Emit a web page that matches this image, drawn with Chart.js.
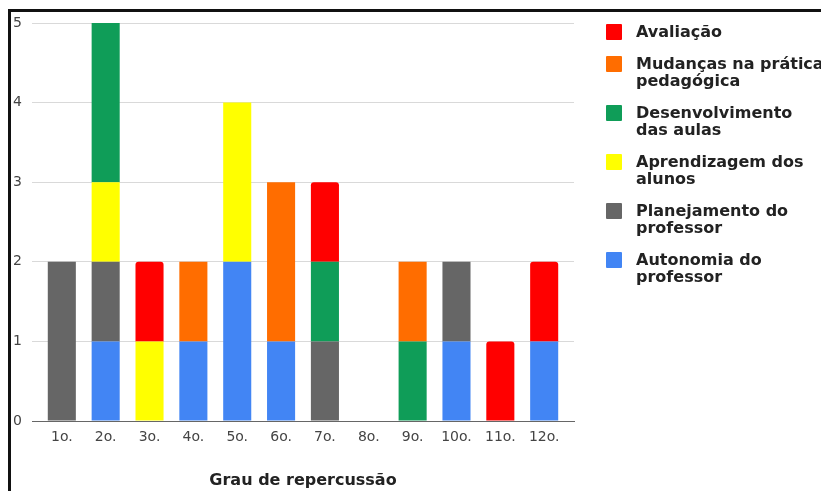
<!DOCTYPE html>
<html>
<head>
<meta charset="utf-8">
<script src="https://cdn.jsdelivr.net/npm/chart.js@4/dist/chart.umd.min.js"></script>
<style>
  html, body { margin: 0; padding: 0; background: #fff; }
  body { width: 821px; height: 491px; position: relative; overflow: hidden; }
  .frame {
    position: absolute; left: 8px; top: 9px; width: 900px; height: 600px;
    border-left: 3px solid #111; border-top: 3px solid #111;
  }
  #chart { position: absolute; left: 0; top: 0; }
  .legend {
    position: absolute; left: 606px; top: 23px;
    font-family: "DejaVu Sans", sans-serif; font-weight: bold; font-size: 16px;
    color: #222; line-height: 17px; white-space: nowrap;
  }
  .legend-item { position: relative; padding-left: 30px; margin-bottom: 15px; }
  .legend-box { position: absolute; left: 0; top: 1px; width: 16px; height: 16px; border-radius: 1px; }
</style>
</head>
<body>
<div class="frame"></div>
<canvas id="chart" width="821" height="491"></canvas>
<div class="legend" id="legend"></div>
<script>
// categories on the x axis
const labels = ["1o.", "2o.", "3o.", "4o.", "5o.", "6o.", "7o.", "8o.", "9o.", "10o.", "11o.", "12o."];

// series, bottom of the stack first
const autonomia       = [0, 1, 0, 1, 2, 1, 0, 0, 0, 1, 0, 1];
const planejamento    = [2, 1, 0, 0, 0, 0, 1, 0, 0, 1, 0, 0];
const aprendizagem    = [0, 1, 1, 0, 2, 0, 0, 0, 0, 0, 0, 0];
const desenvolvimento = [0, 2, 0, 0, 0, 0, 1, 0, 1, 0, 0, 0];
const mudancas        = [0, 0, 0, 1, 0, 2, 0, 0, 1, 0, 0, 0];
const avaliacao       = [0, 0, 1, 0, 0, 0, 1, 0, 0, 0, 1, 1];

const yTicks = [0, 1, 2, 3, 4, 5];

const seriesNames = [
  ["Autonomia do", "professor"],
  ["Planejamento do", "professor"],
  ["Aprendizagem dos", "alunos"],
  ["Desenvolvimento", "das aulas"],
  ["Mudanças na prática", "pedagógica"],
  ["Avaliação"],
];
const seriesData = [autonomia, planejamento, aprendizagem, desenvolvimento, mudancas, avaliacao];
const seriesColors = ["#4285f4", "#666666", "#ffff00", "#0f9d58", "#ff6d00", "#ff0000"];

const datasets = seriesData.map((data, i) => ({
  label: seriesNames[i].join(" "),
  data: data,
  backgroundColor: seriesColors[i],
  borderWidth: 0,
  borderRadius: i === 5 ? 3 : 0,
  categoryPercentage: 1,
  barPercentage: 0.64,
}));

const tickFont = { family: "DejaVu Sans", size: 14 };

new Chart(document.getElementById("chart"), {
  type: "bar",
  data: { labels: labels, datasets: datasets },
  options: {
    responsive: false,
    animation: false,
    layout: { padding: { top: 23, right: 247, bottom: 0, left: 0 } },
    plugins: {
      legend: { display: false },
      tooltip: { enabled: false },
    },
    scales: {
      x: {
        stacked: true,
        grid: { display: false, drawTicks: false },
        border: { color: "#666", width: 1 },
        ticks: { color: "#444", font: tickFont, padding: 8 },
        title: {
          display: true,
          text: "Grau de repercussão",
          color: "#222",
          font: { family: "DejaVu Sans", size: 16, weight: "bold" },
          padding: { top: 0, bottom: 1 },
        },
        // leave a little space before the first and after the last category
        afterBuildTicks: (scale) => {
          scale._startValue = -0.68;
          scale._valueRange = labels.length + 0.36;
        },
        afterFit: (scale) => { scale.height = 70; },
      },
      y: {
        stacked: true,
        min: 0,
        max: 5,
        afterBuildTicks: (scale) => { scale.ticks = yTicks.map((v) => ({ value: v })); },
        grid: {
          drawTicks: false,
          color: (ctx) => (ctx.tick && ctx.tick.value === 0 ? "#666" : "#d9d9d9"),
          lineWidth: 1,
        },
        border: { display: false },
        ticks: { color: "#444", font: tickFont, padding: 10 },
        afterFit: (scale) => { scale.width = 32; },
      },
    },
  },
});

// legend on the right, top of the stack first
const legendEl = document.getElementById("legend");
for (let i = seriesNames.length - 1; i >= 0; i--) {
  const item = document.createElement("div");
  item.className = "legend-item";
  const box = document.createElement("span");
  box.className = "legend-box";
  box.style.background = seriesColors[i];
  item.appendChild(box);
  seriesNames[i].forEach((line) => {
    const row = document.createElement("div");
    row.textContent = line;
    item.appendChild(row);
  });
  legendEl.appendChild(item);
}
</script>
</body>
</html>
